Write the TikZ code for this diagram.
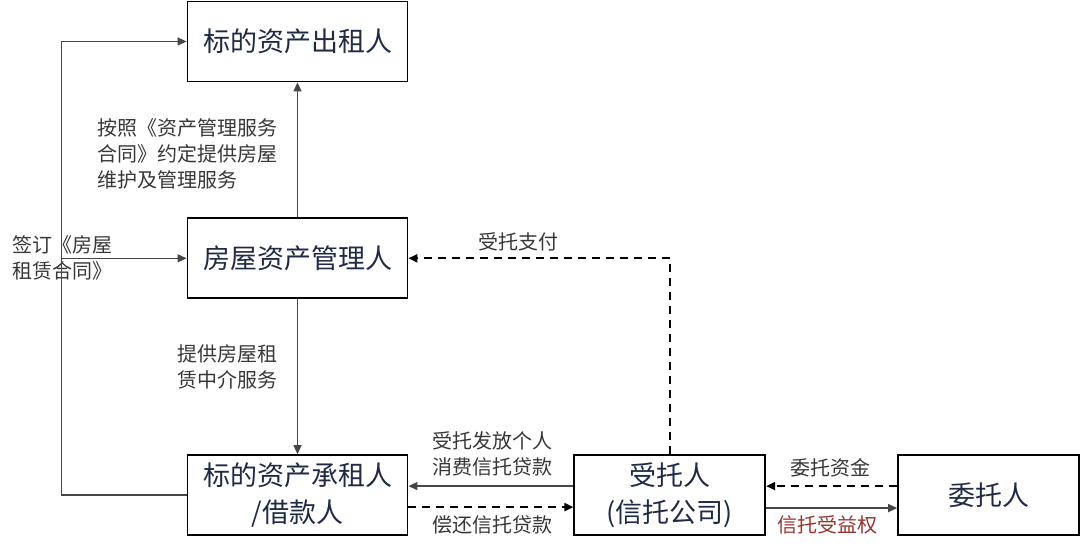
\documentclass[tikz,border=0pt]{standalone}
\usepackage{fontspec}
\newfontfamily\cjk{Noto Sans CJK SC}
\usepackage{xcolor}
\usetikzlibrary{positioning,arrows.meta}
\definecolor{boxtext}{RGB}{31,42,68}
\definecolor{labeltext}{RGB}{55,55,55}
\definecolor{redlabel}{RGB}{150,52,50}
\definecolor{linegray}{RGB}{70,70,70}

\begin{document}
\begin{tikzpicture}[
		x=1pt, y=1pt,
		font=\cjk,
		node distance=135pt and 165pt,
		block/.style={
			draw,
			line width=1.8pt,
			align=center,
			minimum height=80pt,
			minimum width=220pt,
			text=boxtext,
			font=\cjk\fontsize{27}{37}\selectfont
		},
		smallblock/.style={
			block,
			minimum width=191pt
		},
		lbl/.style={
			align=left,
			inner sep=0pt,
			text=labeltext,
			font=\cjk\fontsize{20}{26}\selectfont
		},
		arrow/.style={-{Triangle[length=9pt,width=8pt]}, line width=1.3pt, draw=linegray},
		dasharrow/.style={arrow, line width=2pt, draw=black, dash pattern=on 8pt off 6pt}
		]
		\useasboundingbox (0,0) rectangle (1080,-553);
		
		% Boxes
		\node[block] (lessor) at (297.5,-41.5) {标的资产出租人};
		
		\node[block, below=of lessor] (manager) {房屋资产管理人};
		
		\node[block, below=155pt of manager] (lessee) {标的资产承租人\\/借款人};
		
		\node[smallblock, right=165pt of lessee] (trustee) {受托人\\(信托公司)};
		
		\node[smallblock, minimum width=181pt, right=131pt of trustee] (settlor) {委托人};
		
		% Labels
		\node[lbl, anchor=west] (mgmtlbl) at (97,-154) {按照《资产管理服务\\合同》约定提供房屋\\维护及管理服务};
		\node[lbl, anchor=west] (leaselbl) at (12,-258) {签订《房屋\\租赁合同》};
		\node[lbl, anchor=west] (agentlbl) at (177,-367) {提供房屋租\\赁中介服务};
		\node[lbl, anchor=west] (paylbl) at (478,-242) {受托支付};
		\node[lbl, anchor=west] (loanlbl) at (432,-454) {受托发放个人\\消费信托贷款};
		\node[lbl, anchor=west] (repaylbl) at (432,-525) {偿还信托贷款};
		\node[lbl, anchor=west] (fundlbl) at (790,-468) {委托资金};
		\node[lbl, anchor=west, text=redlabel] (rightlbl) at (777,-525) {信托受益权};
		
		% Arrows
		\draw[arrow] (manager.north) -- (lessor.south);
		\draw[arrow] (manager.south) -- (lessee.north);
		\draw[arrow] (lessee.west) -- ++(-125,0) coordinate (turn) |- (lessor.west);
		\draw[arrow] (turn |- manager.west) -- (manager.west);
		\draw[dasharrow] (trustee.north) |- (manager.east);
		\draw[arrow] ([yshift=9pt]trustee.west) -- ([yshift=9pt]lessee.east);
		\draw[dasharrow] ([yshift=-12pt]lessee.east) -- ([yshift=-12pt]trustee.west);
		\draw[dasharrow] ([yshift=9pt]settlor.west) -- ([yshift=9pt]trustee.east);
		\draw[arrow] ([yshift=-13pt]trustee.east) -- ([yshift=-13pt]settlor.west);
		
	\end{tikzpicture}
\end{document}
